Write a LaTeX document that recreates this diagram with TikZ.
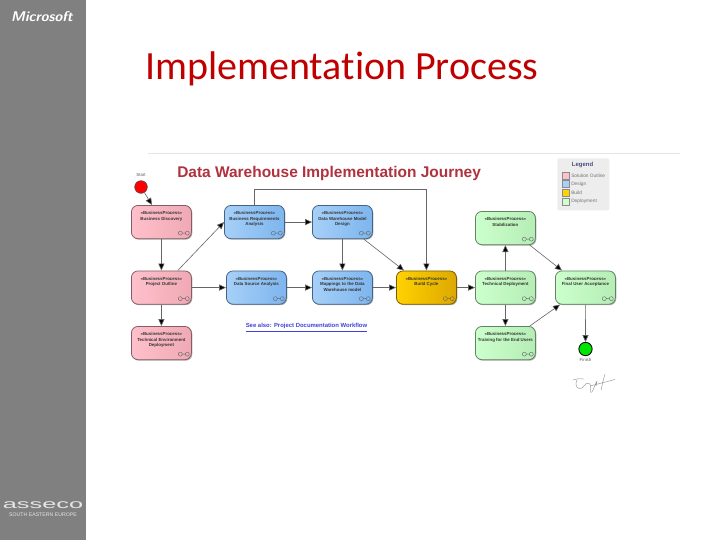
\documentclass[tikz,border=0pt]{standalone}
\usepackage{fontspec}
\setmainfont{Liberation Sans}
\newfontfamily\carl[RawFeature={-liga;-clig;-dlig}]{Carlito}
\newfontfamily\logofont[FakeStretch=2]{Liberation Sans}
\usetikzlibrary{arrows.meta,shadows,calc}
\definecolor{sidegray}{HTML}{808080}
\definecolor{titlered}{HTML}{C00000}
\definecolor{headred}{HTML}{B0323F}
\definecolor{pinkbox}{HTML}{FFC0CB}
\definecolor{pinkdark}{HTML}{EFA9B4}
\definecolor{bluebox}{HTML}{A6D0F8}
\definecolor{bluedark}{HTML}{7DB5EE}
\definecolor{goldbox}{HTML}{FFD200}
\definecolor{golddark}{HTML}{DDA800}
\definecolor{greenbox}{HTML}{CCFFCC}
\definecolor{greendark}{HTML}{B5EDB5}
\tikzset{
  x=0.75pt,y=-0.75pt,
  procbox/.style={draw=#1!55!black,line width=0.6pt,rounded corners=5pt,minimum width=45pt,minimum height=25pt,
     inner sep=0pt,drop shadow={shadow xshift=0.7pt,shadow yshift=-0.7pt,fill=black!45,opacity=0.7},anchor=north west},
  pinkstyle/.style={procbox=pinkdark,left color=pinkbox,right color=pinkdark},
  bluestyle/.style={procbox=bluedark,left color=bluebox,right color=bluedark},
  goldstyle/.style={procbox=golddark,left color=goldbox,right color=golddark},
  greenstyle/.style={procbox=greendark,left color=greenbox,right color=greendark},
  flow/.style={draw=black!60,line width=0.45pt,-{Triangle[length=5.2pt,width=4.6pt,fill=black]}},
  termlabel/.style={font=\fontsize{3.3}{4}\selectfont,text=black!65,inner sep=0pt},
  legtext/.style={font=\fontsize{3.6}{4.5}\selectfont,text=black!55,anchor=west,inner sep=0pt},
  legswatch/.style={draw=black!45,line width=0.3pt,minimum size=5.4pt,inner sep=0pt},
}
\newcommand{\proctext}[1]{\parbox[t][25pt][t]{44.5pt}{\centering\fontsize{3.3}{4.1}\selectfont\bfseries\textcolor{black!80}{\rule{0pt}{7pt}«BusinessProcess»\\#1}}}
\newcommand{\linkglyph}[1]{\draw[black!60,line width=0.3pt] ($(#1.south east)+(-11.5,-6)$) circle[radius=2] ($(#1.south east)+(-4.5,-6)$) circle[radius=2] ($(#1.south east)+(-9.5,-6)$) -- ($(#1.south east)+(-6.5,-6)$);}
\begin{document}
\begin{tikzpicture}
\useasboundingbox (0,0) rectangle (720,540);
\fill[white] (0,0) rectangle (720,540);
\fill[sidegray] (0,0) rectangle (86,540);
\node[font=\sffamily\fontsize{10.6}{11}\selectfont\bfseries\itshape,text=white,inner sep=0pt] (ms) at (42,17) {Microsoft};
\node[font=\logofont\fontsize{9.5}{10}\selectfont,text=white!90!black,inner sep=0pt] (asseco) at (43,505) {asseco};
\node[font=\fontsize{3.9}{4}\selectfont,text=white!90!black,inner sep=0pt] (see) at (43,514.5) {SOUTH EASTERN EUROPE};
\node[font=\carl\fontsize{30}{32}\selectfont,text=titlered,anchor=base west,inner sep=0pt] (title) at (145,79.5) {Implementation Process};
\coordinate (ruleL) at (148,153.5); \coordinate (ruleR) at (680,153.5);
\draw[black!10,line width=0.5pt] (ruleL) -- (ruleR);
\node[font=\fontsize{11.6}{13}\selectfont\bfseries,text=headred,anchor=base west,inner sep=0pt] (head) at (177,177) {Data Warehouse Implementation Journey};
% legend
\node[fill=black!7,rounded corners=1.5pt,minimum width=39pt,minimum height=39pt,inner sep=0pt,anchor=north west] (legend) at (557,158) {};
\node[font=\fontsize{4.5}{5}\selectfont\bfseries,text=blue!30!black!70,inner sep=0pt] (legtitle) at (582.5,165) {Legend};
\node[legswatch,fill=pinkbox] (s1) at (565.3,175.7) {}; \node[legtext] (l1) at (571,175.7) {Solution Outline};
\node[legswatch,fill=bluebox] (s2) at (565.3,184) {}; \node[legtext] (l2) at (571,184) {Design};
\node[legswatch,fill=goldbox] (s3) at (565.3,192.7) {}; \node[legtext] (l3) at (571,192.7) {Build};
\node[legswatch,fill=greenbox] (s4) at (565.3,201.3) {}; \node[legtext] (l4) at (571,201.3) {Deployment};
% boxes
\node[pinkstyle] (bd) at (131,205) {\proctext{Business Discovery}};
\node[pinkstyle] (po) at (131,270.5) {\proctext{Project Outline}};
\node[pinkstyle] (te) at (131,326) {\proctext{Technical Environment\\Deployment}};
\node[bluestyle] (br) at (224,205) {\proctext{Business Requirements\\Analysis}};
\node[bluestyle] (ds) at (226,270.5) {\proctext{Data Source Analysis}};
\node[bluestyle] (dw) at (312,205) {\proctext{Data Warehouse Model\\Design}};
\node[bluestyle] (mp) at (312,270.5) {\proctext{Mappings to the Data\\Warehouse model}};
\node[goldstyle] (bc) at (396,270.5) {\proctext{Build Cycle}};
\node[greenstyle] (st) at (475,211) {\proctext{Stabilization}};
\node[greenstyle] (td) at (475,270.5) {\proctext{Technical Deployment}};
\node[greenstyle] (tr) at (475,326) {\proctext{Training for the End Users}};
\node[greenstyle] (fu) at (555,270.5) {\proctext{Final User Acceptance}};
\foreach \n in {bd,po,te,br,ds,dw,mp,bc,st,td,tr,fu}{\linkglyph{\n}}
% terminals
\node[circle,draw=black!70,line width=0.4pt,fill=red,minimum size=9.5pt,inner sep=0pt] (start) at (141,187) {};
\node[termlabel] (startl) at (141,175) {Start};
\node[circle,draw=black,line width=0.6pt,fill=green!90!black,minimum size=10pt,inner sep=0pt] (finish) at (585.5,349) {};
\node[termlabel] (finishl) at (585.5,359.5) {Finish};
\node[font=\fontsize{4.45}{5}\selectfont\bfseries,text=blue!70!white!85!black,inner sep=0pt] (seealso) at (306.5,327.5) {\underline{See also: Project Documentation Workflow}};
% connectors
\draw[flow] (start) -- ($(bd.north west)+(21,0)$);
\draw[flow] (bd.south) -- (po.north);
\draw[flow] (po.south) -- (te.north);
\draw[flow] ($(po.north east)+(-14,0)$) -- (br.west);
\draw[flow] (po.east) -- (ds.west);
\draw[flow] (ds.east) -- (mp.west);
\draw[flow] (br.east) -- (dw.west);
\draw[flow] (dw.south) -- (mp.north);
\draw[flow] (mp.east) -- (bc.west);
\draw[flow] ($(dw.south east)+(-9,0)$) -- ($(bc.north west)+(8,0)$);
\coordinate (topL) at (br.north|-0,189.5);
\coordinate (topR) at (bc.north|-0,189.5);
\draw[flow] (br.north) -- (topL) -- (topR) -- (bc.north);
\draw[flow] (bc.east) -- (td.west);
\draw[flow] (td.north) -- (st.south);
\draw[flow] (td.south) -- (tr.north);
\draw[flow] ($(st.south east)+(-6,0)$) -- ($(fu.north west)+(7,0)$);
\draw[flow] ($(tr.north east)+(-6,0)$) -- ($(fu.south west)+(5,0)$);
\draw[flow] (fu.south) -- (finish.north);
% signature
\draw[black!45,line width=0.3pt,line cap=round]
 (573,380) .. controls (578,378) and (582,379) .. (584,379)
 (577,380) .. controls (574,386) and (578,390) .. (582,388)
 .. controls (586,384) and (586,382) .. (590,384)
 .. controls (592,388) and (588,394) .. (592,392)
 .. controls (596,384) and (598,376) .. (596,386)
 (590,386) -- (615,379.5)
 (605,374) .. controls (603,380) and (602,386) .. (601,390);
\end{tikzpicture}
\end{document}
